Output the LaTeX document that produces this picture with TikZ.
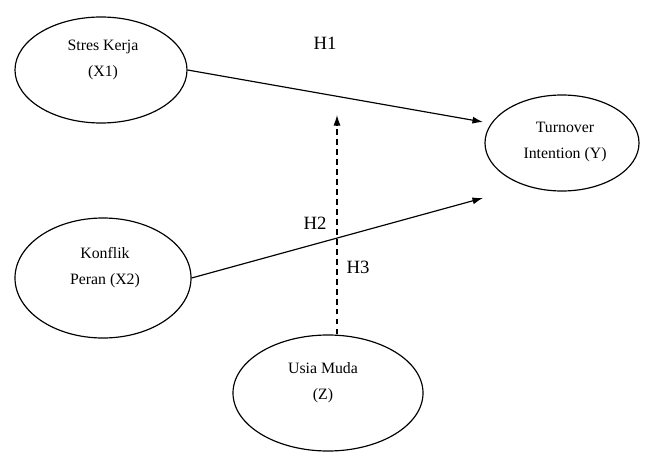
\documentclass[tikz,border=0pt]{standalone}
\usepackage{fontspec}
\setmainfont{Liberation Serif}
\usetikzlibrary{shapes.geometric,arrows.meta}

\begin{document}
\begin{tikzpicture}[x=0.03cm,y=-0.03cm,
    var/.style={draw,ellipse,line width=1pt,inner sep=0pt},
    lbl/.style={align=center,font=\fontsize{13.5}{22}\selectfont},
    hyp/.style={font=\fontsize{16}{18}\selectfont},
    link/.style={line width=1pt,-{Latex[length=9pt,width=6pt]}}]
    \useasboundingbox (0,0) rectangle (650,453);

    % Variables
    \node[var,minimum width=5.16cm,minimum height=3.18cm] (x1) at (101,70) {};
    \node[var,minimum width=4.62cm,minimum height=2.88cm] (y) at (562,143) {};
    \node[var,minimum width=5.28cm,minimum height=3.6cm] (x2) at (103,278) {};
    \node[var,minimum width=5.7cm,minimum height=3.48cm] (z) at (328,393) {};

    % Variable names
    \node[lbl] (x1txt) at (103,60) {Stres Kerja\\(X1)};
    \node[lbl] (ytxt) at (565,142) {Turnover\\Intention (Y)};
    \node[lbl] (x2txt) at (105,268) {Konflik\\Peran (X2)};
    \node[lbl] (ztxt) at (323,383) {Usia Muda\\(Z)};

    % Arrow ends
    \coordinate (h1end) at (483,122);
    \coordinate (h2end) at (483,198);
    \coordinate (h3end) at (337,115);

    % Paths
    \draw[link] (x1.east) -- (h1end);
    \draw[link] (x2.east) -- (h2end);
    \draw[link,dashed,dash pattern=on 5pt off 3.5pt] (h3end |- z.north) -- (h3end);

    % Hypotheses
    \node[hyp] (h1) at (325,43) {H1};
    \node[hyp] (h2) at (315,223) {H2};
    \node[hyp] (h3) at (358,267) {H3};
\end{tikzpicture}
\end{document}
